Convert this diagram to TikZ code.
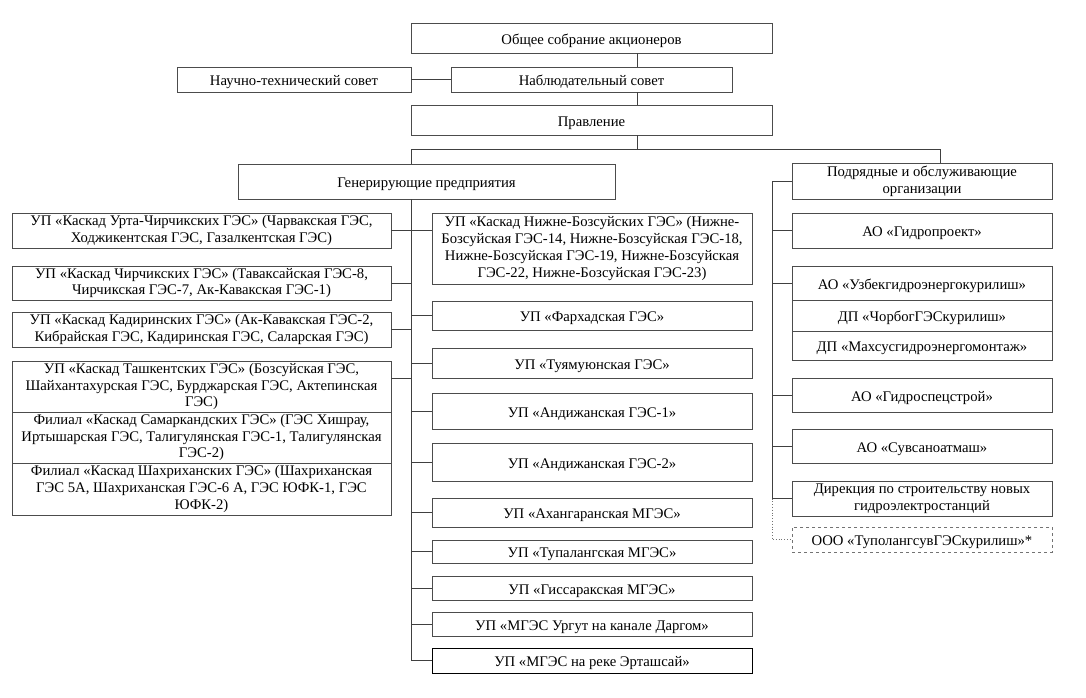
\documentclass[tikz,border=0pt]{standalone}
\usepackage{fontspec}
\setmainfont{Liberation Serif}
\tikzset{
  box/.style={draw=black!70, line width=0.8pt, inner sep=0pt, align=center, font=\fontsize{14.7}{16.8}\selectfont, fill=white,
    execute at begin node={\rule{0pt}{15.8pt}}},
  dbox/.style={box, draw=black!55, dashed},
  conn/.style={draw=black!75, line width=0.8pt},
  dconn/.style={draw=black!55, line width=0.8pt, dotted}
}
\newcommand\mybox[7][]{\node[box,#1, minimum width={(#5-#3)*1pt}, minimum height={(#6-#4)*1pt}] (#2) at ({(#3+#5)/2},{(#4+#6)/2}) {#7};}
\begin{document}
\begin{tikzpicture}[x=1pt,y=-1pt]
\useasboundingbox (0,0) rectangle (1086,697);
% top part
\mybox{top}{411}{23}{772}{53}{Общее собрание акционеров}
\mybox{ntc}{177}{67}{411}{92}{Научно-технический совет}
\mybox{nab}{451}{67}{732}{92}{Наблюдательный совет}
\mybox{prav}{411}{105}{772}{135}{Правление}
\mybox{gen}{238}{164}{615}{199}{Генерирующие предприятия}
% left column
\mybox{l1}{12}{213}{391}{248}{УП «Каскад Урта-Чирчикских ГЭС» (Чарвакская ГЭС,\\ Ходжикентская ГЭС, Газалкентская ГЭС)}
\mybox{l2}{12}{266}{391}{300}{УП «Каскад Чирчикских ГЭС» (Таваксайская ГЭС-8,\\ Чирчикская ГЭС-7, Ак-Кавакская ГЭС-1)}
\mybox{l3}{12}{312}{391}{347}{УП «Каскад Кадиринских ГЭС» (Ак-Кавакская ГЭС-2,\\ Кибрайская ГЭС, Кадиринская ГЭС, Саларская ГЭС)}
\mybox{l4}{12}{361}{391}{412}{УП «Каскад Ташкентских ГЭС» (Бозсуйская ГЭС,\\ Шайхантахурская ГЭС, Бурджарская ГЭС, Актепинская\\ ГЭС)}
\mybox{l5}{12}{412}{391}{463}{Филиал «Каскад Самаркандских ГЭС» (ГЭС Хишрау,\\ Иртышарская ГЭС, Талигулянская ГЭС-1, Талигулянская\\ ГЭС-2)}
\mybox{l6}{12}{463}{391}{515}{Филиал «Каскад Шахриханских ГЭС» (Шахриханская\\ ГЭС 5А, Шахриханская ГЭС-6 А, ГЭС ЮФК-1, ГЭС\\ ЮФК-2)}
% middle column
\mybox{m1}{432}{213}{752}{284}{УП «Каскад Нижне-Бозсуйских ГЭС» (Нижне-\\ Бозсуйская ГЭС-14, Нижне-Бозсуйская ГЭС-18,\\ Нижне-Бозсуйская ГЭС-19, Нижне-Бозсуйская\\ ГЭС-22, Нижне-Бозсуйская ГЭС-23)}
\mybox{m2}{432}{301}{752}{330}{УП «Фархадская ГЭС»}
\mybox{m3}{432}{348}{752}{378}{УП «Туямуюнская ГЭС»}
\mybox{m4}{432}{393}{752}{429}{УП «Андижанская ГЭС-1»}
\mybox{m5}{432}{443}{752}{481}{УП «Андижанская ГЭС-2»}
\mybox{m6}{432}{498}{752}{527}{УП «Ахангаранская МГЭС»}
\mybox{m7}{432}{540}{752}{563}{УП «Тупалангская МГЭС»}
\mybox{m8}{432}{576}{752}{600}{УП «Гиссаракская МГЭС»}
\mybox{m9}{432}{612}{752}{636}{УП «МГЭС Ургут на канале Даргом»}
\mybox[draw=black]{m10}{432}{648}{752}{673}{УП «МГЭС на реке Эрташсай»}
% right column
\mybox{r0}{792}{163}{1052}{199}{Подрядные и обслуживающие\\ организации}
\mybox{r1}{792}{213}{1052}{248}{АО «Гидропроект»}
\mybox{r2}{792}{266}{1052}{300}{АО «Узбекгидроэнергокурилиш»}
\mybox{r3}{792}{300}{1052}{331}{ДП «ЧорбогГЭСкурилиш»}
\mybox{r4}{792}{331}{1052}{360}{ДП «Махсусгидроэнергомонтаж»}
\mybox{r5}{792}{378}{1052}{412}{АО «Гидроспецстрой»}
\mybox{r6}{792}{429}{1052}{463}{АО «Сувсаноатмаш»}
\mybox{r7}{792}{481}{1052}{516}{Дирекция по строительству новых\\ гидроэлектростанций}
\mybox[dbox]{r8}{792}{527}{1052}{552}{ООО «ТуполангсувГЭСкурилиш»*}
% helper coordinates
\coordinate (cA) at (637,0);
\coordinate (vL) at (411,0);
\coordinate (vR) at (772,0);
\coordinate (hY) at (0,149);
\coordinate (hL) at (411,149);
\coordinate (hR) at (940,149);
% top connectors
\draw[conn] (top.south -| cA) -- (nab.north -| cA);
\draw[conn] (ntc.east) -- (nab.west);
\draw[conn] (nab.south -| cA) -- (prav.north -| cA);
\draw[conn] (prav.south -| cA) -- (cA |- hY);
\draw[conn] (hL) -- (hR);
\draw[conn] (hL) -- (gen.north -| hL);
\draw[conn] (hR) -- (r0.north -| hR);
% left trunk
\draw[conn] (gen.south -| vL) -- (vL |- m10.west);
\draw[conn] (l1.east) -- (l1.east -| m1.west);
\draw[conn] (l2.east) -- (l2.east -| vL);
\draw[conn] (l3.east) -- (l3.east -| vL);
\draw[conn] ([yshift=8pt]l4.east) -- ([yshift=8pt]l4.east -| vL);
\foreach \m in {m2,m3,m4,m5,m6,m7,m8,m9,m10}
  \draw[conn] (vL |- \m.west) -- (\m.west);
% right trunk
\draw[conn] (r0.west -| vR) -- (vR |- r7.west);
\foreach \r in {r0,r1,r2,r5,r6,r7}
  \draw[conn] (vR |- \r.west) -- (\r.west);
\draw[dconn] (vR |- r7.west) -- (vR |- r8.west) -- (r8.west);
\end{tikzpicture}
\end{document}
